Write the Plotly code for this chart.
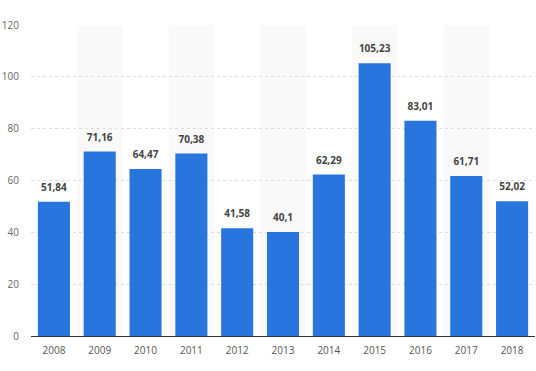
import plotly.graph_objects as go

years = ["2008", "2009", "2010", "2011", "2012", "2013", "2014", "2015", "2016", "2017", "2018"]
values = [51.84, 71.16, 64.47, 70.38, 41.58, 40.1, 62.29, 105.23, 83.01, 61.71, 52.02]
y_ticks = [0, 20, 40, 60, 80, 100, 120]

labels = ["<b>%s</b>" % ("%g" % v).replace(".", ",") for v in values]

fig = go.Figure()
fig.add_trace(go.Bar(
    x=years, y=values, width=0.7,
    marker=dict(color="#2876dd", line=dict(width=0)),
    hoverinfo="x+y",
))
fig.add_trace(go.Scatter(
    x=years, y=values, mode="markers+text", text=labels,
    textposition="top center",
    marker=dict(size=12, opacity=0),
    textfont=dict(family="Open Sans", size=10, color="#444444"),
    cliponaxis=False, hoverinfo="skip",
))

shapes = []
for i, yr in enumerate(years):
    if i % 2 == 1:
        shapes.append(dict(type="rect", xref="x", yref="paper", x0=i - 0.5, x1=i + 0.5,
                           y0=0, y1=1, fillcolor="#f9f9f9", line=dict(width=0), layer="below"))

fig.update_layout(
    width=536, height=371,
    margin=dict(l=31, r=1, t=25, b=35, autoexpand=False),
    paper_bgcolor="white", plot_bgcolor="white",
    showlegend=False,
    shapes=shapes,
    font=dict(family="Open Sans", size=10, color="#666666"),
)
fig.update_xaxes(showgrid=False, showline=True, linecolor="#333333", linewidth=1,
                 ticks="", tickfont=dict(size=10, color="#555555"), range=[-0.5, 10.5],
                 automargin=False, ticklabelstandoff=5)
fig.update_yaxes(range=[0, 120], tickvals=y_ticks, showgrid=True, gridcolor="#dddddd",
                 griddash="dot", gridwidth=1, zeroline=False, ticks="",
                 tickfont=dict(size=10, color="#666666"), ticklabelstandoff=11,
                 automargin=False)

fig.write_html("out.html", config={"displayModeBar": False},
               post_script="document.body.style.margin='0';")
